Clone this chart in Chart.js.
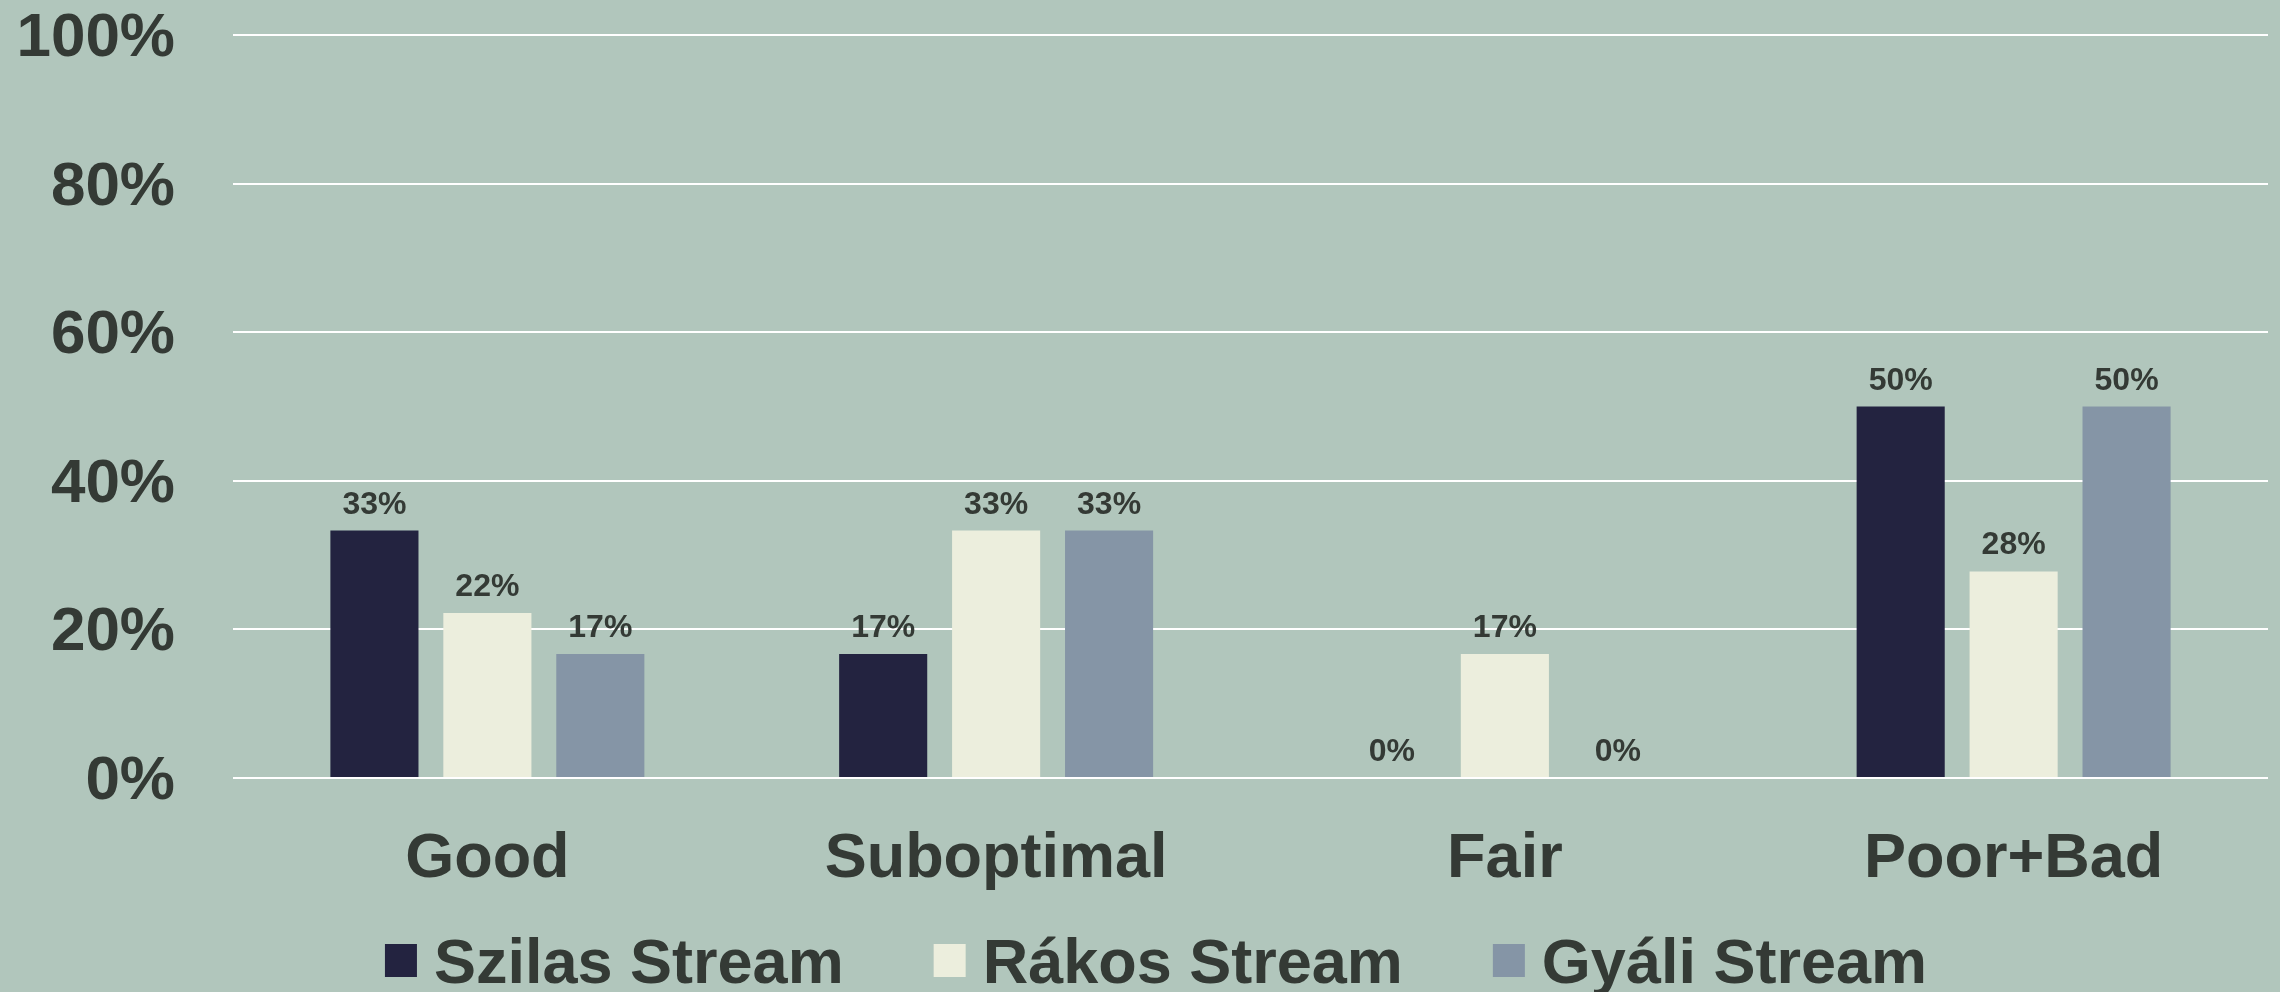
<!DOCTYPE html>
<html>
<head>
<meta charset="utf-8">
<script src="https://cdn.jsdelivr.net/npm/chart.js@4.4.1/dist/chart.umd.min.js"></script>
<style>
  html, body { margin: 0; padding: 0; background: #B1C6BC; }
  #wrap { width: 2280px; height: 992px; position: relative; }
</style>
</head>
<body>
<div id="wrap"><canvas id="c"></canvas></div>
<script>
const categories = ["Good", "Suboptimal", "Fair", "Poor+Bad"];
const seriesNames = ["Szilas Stream", "Rákos Stream", "Gyáli Stream"];
const szilas = [33.3, 16.7, 0, 50];
const rakos = [22.2, 33.3, 16.7, 27.8];
const gyali = [16.7, 33.3, 0, 50];
const yTicks = [0, 20, 40, 60, 80, 100];

const colors = ["#232340", "#ECEEDD", "#8595A6"];
const textColor = "#343A35";
const FONT = "'Liberation Sans', Arial, sans-serif";

const barLabels = {
  id: 'barLabels',
  afterDatasetsDraw(chart) {
    const ctx = chart.ctx;
    ctx.save();
    ctx.font = "bold 32px " + FONT;
    ctx.fillStyle = textColor;
    ctx.textAlign = 'center';
    ctx.textBaseline = 'alphabetic';
    chart.data.datasets.forEach((ds, i) => {
      const meta = chart.getDatasetMeta(i);
      meta.data.forEach((el, j) => {
        ctx.fillText(Math.round(ds.data[j]) + '%', el.x, el.y - 17);
      });
    });
    ctx.restore();
  }
};

const customLegend = {
  id: 'customLegend',
  afterDraw(chart) {
    const ctx = chart.ctx;
    ctx.save();
    ctx.font = "bold 63px " + FONT;
    const box = 32, gapText = 17, gapItem = 90;
    const items = chart.data.datasets.map(ds => ({ label: ds.label, color: ds.backgroundColor, w: ctx.measureText(ds.label).width }));
    let total = 0;
    items.forEach((it, k) => { total += box + gapText + it.w + (k < items.length - 1 ? gapItem : 0); });
    let x = chart.width / 2 + 16 - total / 2;
    const yc = 960;
    items.forEach(it => {
      ctx.fillStyle = it.color;
      ctx.fillRect(x, yc - box / 2, box, box + 1);
      ctx.fillStyle = textColor;
      ctx.textAlign = 'left';
      ctx.textBaseline = 'alphabetic';
      ctx.fillText(it.label, x + box + gapText, yc + 23);
      x += box + gapText + it.w + gapItem;
    });
    ctx.restore();
  }
};

const seriesValues = [szilas, rakos, gyali];

new Chart(document.getElementById('c'), {
  type: 'bar',
  data: {
    labels: categories,
    datasets: seriesNames.map((name, i) => ({
      label: name,
      data: seriesValues[i],
      backgroundColor: colors[i],
      borderWidth: 0,
      categoryPercentage: 0.666,
      barPercentage: 0.78
    }))
  },
  options: {
    responsive: true,
    maintainAspectRatio: false,
    animation: false,
    layout: { padding: { top: 35, right: 12, left: 0, bottom: 0 } },
    plugins: {
      legend: { display: false },
      tooltip: { enabled: false }
    },
    scales: {
      x: {
        grid: { display: false },
        border: { display: false },
        ticks: {
          color: textColor,
          font: { family: FONT, size: 63, weight: 'bold', lineHeight: 1.2 },
          padding: 36,
          maxRotation: 0
        },
        afterFit(s) { s.height = 214; }
      },
      y: {
        min: 0,
        max: 100,
        afterBuildTicks(s) { s.ticks = yTicks.map(v => ({ value: v })); },
        grid: { color: '#FFFFFF', lineWidth: 2, drawTicks: true, tickLength: 58, tickColor: 'rgba(0,0,0,0)' },
        border: { display: false },
        ticks: {
          color: textColor,
          font: { family: FONT, size: 62, weight: 'bold', lineHeight: 1 },
          padding: 0,
          labelOffset: 4,
          callback: v => v + '%'
        },
        afterFit(s) { s.width = 233; }
      }
    }
  },
  plugins: [barLabels, customLegend]
});
</script>
</body>
</html>
